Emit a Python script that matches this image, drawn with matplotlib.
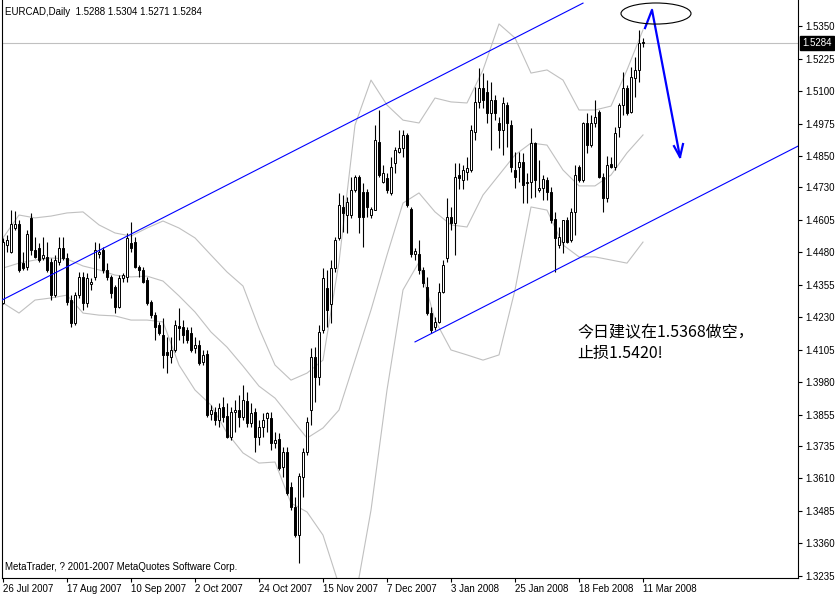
import matplotlib
matplotlib.use("Agg")
import matplotlib.pyplot as plt
from matplotlib.patches import Ellipse
import numpy as np

plt.rcParams["font.family"] = ["Liberation Sans", "DejaVu Sans"]

header_text = "EURCAD,Daily  1.5288 1.5304 1.5271 1.5284"
footer_text = "MetaTrader, ? 2001-2007 MetaQuotes Software Corp."
note_lines = ["今日建议在1.5368做空，", "止损1.5420!"]

# daily OHLC, one entry per bar (26 Jul 2007 .. 11 Mar 2008)
opens = [
    1.4285, 1.4508, 1.4482, 1.4575, 1.4590, 1.4437, 1.4425, 1.4610, 1.4489, 1.4495,
    1.4456, 1.4463, 1.4444, 1.4315, 1.4444, 1.4497, 1.4456, 1.4297, 1.4207, 1.4315,
    1.4386, 1.4284, 1.4357, 1.4386, 1.4472, 1.4489, 1.4412, 1.4386, 1.4348, 1.4271,
    1.4382, 1.4386, 1.4514, 1.4520, 1.4425, 1.4412, 1.4373, 1.4290, 1.4238, 1.4200,
    1.4162, 1.4097, 1.4078, 1.4104, 1.4196, 1.4191, 1.4181, 1.4168, 1.4110, 1.4123,
    1.4056, 1.4088, 1.3858, 1.3867, 1.3835, 1.3886, 1.3851, 1.3771, 1.3867, 1.3873,
    1.3848, 1.3907, 1.3825, 1.3867, 1.3771, 1.3809, 1.3841, 1.3841, 1.3745, 1.3760,
    1.3655, 1.3713, 1.3578, 1.3501, 1.3392, 1.3617, 1.3713, 1.3873, 1.4078, 1.4001,
    1.4180, 1.4341, 1.4280, 1.4418, 1.4533, 1.4655, 1.4623, 1.4623, 1.4719, 1.4770,
    1.4713, 1.4713, 1.4623, 1.4642, 1.4905, 1.4751, 1.4764, 1.4706, 1.4822, 1.4866,
    1.4879, 1.4931, 1.4648, 1.4475, 1.4475, 1.4411, 1.4347, 1.4245, 1.4193, 1.4213,
    1.4328, 1.4456, 1.4616, 1.4591, 1.4777, 1.4757, 1.4790, 1.4796, 1.4943, 1.5059,
    1.5110, 1.5097, 1.5014, 1.5065, 1.4976, 1.4950, 1.5046, 1.4970, 1.4796, 1.4809,
    1.4828, 1.4745, 1.4751, 1.4899, 1.4719, 1.4726, 1.4758, 1.4713, 1.4606, 1.4508,
    1.4520, 1.4604, 1.4527, 1.4636, 1.4809, 1.4758, 1.4976, 1.4892, 1.4976, 1.5020,
    1.4770, 1.4687, 1.4818, 1.4809, 1.4963, 1.5046, 1.5110, 1.5020, 1.5149, 1.5181,
    1.5288,
]
highs = [
    1.4535, 1.4546, 1.4642, 1.4640, 1.4605, 1.4482, 1.4566, 1.4630, 1.4540, 1.4514,
    1.4540, 1.4520, 1.4456, 1.4469, 1.4540, 1.4540, 1.4476, 1.4315, 1.4328, 1.4405,
    1.4405, 1.4399, 1.4379, 1.4520, 1.4514, 1.4501, 1.4437, 1.4392, 1.4354, 1.4392,
    1.4399, 1.4553, 1.4597, 1.4540, 1.4431, 1.4425, 1.4386, 1.4297, 1.4251, 1.4213,
    1.4226, 1.4155, 1.4155, 1.4219, 1.4264, 1.4219, 1.4194, 1.4194, 1.4155, 1.4142,
    1.4104, 1.4104, 1.3893, 1.3886, 1.3899, 1.3925, 1.3899, 1.3886, 1.3912, 1.3931,
    1.3970, 1.3944, 1.3899, 1.3880, 1.3835, 1.3860, 1.3867, 1.3867, 1.3790, 1.3783,
    1.3732, 1.3732, 1.3598, 1.3540, 1.3630, 1.3726, 1.3847, 1.4110, 1.4117, 1.4200,
    1.4418, 1.4411, 1.4450, 1.4540, 1.4706, 1.4700, 1.4693, 1.4770, 1.4777, 1.4777,
    1.4745, 1.4725, 1.4655, 1.4969, 1.5027, 1.4815, 1.4783, 1.4847, 1.4886, 1.4950,
    1.4950, 1.4937, 1.4655, 1.4495, 1.4527, 1.4424, 1.4386, 1.4270, 1.4232, 1.4360,
    1.4450, 1.4687, 1.4655, 1.4822, 1.4822, 1.4815, 1.4847, 1.4969, 1.5116, 1.5187,
    1.5168, 1.5142, 1.5136, 1.5085, 1.5001, 1.5078, 1.5059, 1.4989, 1.4866, 1.4866,
    1.4860, 1.4783, 1.4956, 1.4905, 1.4835, 1.4777, 1.4770, 1.4732, 1.4636, 1.4578,
    1.4604, 1.4617, 1.4649, 1.4815, 1.4815, 1.4982, 1.5014, 1.5008, 1.5065, 1.5027,
    1.4783, 1.4850, 1.4847, 1.4963, 1.5053, 1.5174, 1.5123, 1.5194, 1.5232, 1.5335,
    1.5304,
]
lows = [
    1.4280, 1.4482, 1.4478, 1.4565, 1.4405, 1.4412, 1.4412, 1.4469, 1.4456, 1.4444,
    1.4450, 1.4405, 1.4297, 1.4309, 1.4431, 1.4450, 1.4277, 1.4194, 1.4200, 1.4303,
    1.4258, 1.4271, 1.4335, 1.4373, 1.4456, 1.4399, 1.4373, 1.4303, 1.4245, 1.4264,
    1.4367, 1.4367, 1.4482, 1.4418, 1.4386, 1.4360, 1.4277, 1.4226, 1.4143, 1.4162,
    1.4033, 1.4014, 1.4053, 1.4097, 1.4142, 1.4129, 1.4129, 1.4097, 1.4091, 1.4046,
    1.4046, 1.3848, 1.3835, 1.3815, 1.3809, 1.3828, 1.3764, 1.3758, 1.3790, 1.3809,
    1.3835, 1.3809, 1.3809, 1.3713, 1.3739, 1.3771, 1.3790, 1.3719, 1.3726, 1.3642,
    1.3617, 1.3546, 1.3488, 1.3386, 1.3283, 1.3540, 1.3700, 1.3815, 1.3905, 1.3970,
    1.4170, 1.4193, 1.4206, 1.4405, 1.4527, 1.4559, 1.4552, 1.4610, 1.4713, 1.4552,
    1.4501, 1.4616, 1.4610, 1.4642, 1.4770, 1.4745, 1.4706, 1.4700, 1.4783, 1.4860,
    1.4847, 1.4655, 1.4463, 1.4450, 1.4398, 1.4347, 1.4238, 1.4168, 1.4181, 1.4206,
    1.4322, 1.4443, 1.4565, 1.4469, 1.4725, 1.4725, 1.4757, 1.4790, 1.4911, 1.5033,
    1.5033, 1.4976, 1.4873, 1.4989, 1.4880, 1.4854, 1.4886, 1.4790, 1.4726, 1.4751,
    1.4668, 1.4668, 1.4687, 1.4694, 1.4713, 1.4681, 1.4681, 1.4591, 1.4405, 1.4495,
    1.4476, 1.4514, 1.4520, 1.4546, 1.4751, 1.4751, 1.4860, 1.4886, 1.4963, 1.4764,
    1.4636, 1.4674, 1.4803, 1.4796, 1.4924, 1.5008, 1.5008, 1.5014, 1.5078, 1.5136,
    1.5271,
]
closes = [
    1.4520, 1.4527, 1.4590, 1.4588, 1.4412, 1.4418, 1.4549, 1.4489, 1.4463, 1.4450,
    1.4469, 1.4412, 1.4315, 1.4450, 1.4495, 1.4456, 1.4290, 1.4207, 1.4315, 1.4386,
    1.4284, 1.4379, 1.4367, 1.4489, 1.4482, 1.4412, 1.4386, 1.4322, 1.4271, 1.4379,
    1.4392, 1.4533, 1.4495, 1.4425, 1.4412, 1.4367, 1.4284, 1.4238, 1.4194, 1.4168,
    1.4085, 1.4085, 1.4104, 1.4200, 1.4187, 1.4162, 1.4142, 1.4104, 1.4123, 1.4053,
    1.4085, 1.3854, 1.3873, 1.3835, 1.3880, 1.3848, 1.3771, 1.3867, 1.3873, 1.3848,
    1.3912, 1.3822, 1.3861, 1.3771, 1.3809, 1.3835, 1.3860, 1.3745, 1.3758, 1.3649,
    1.3713, 1.3553, 1.3501, 1.3392, 1.3619, 1.3713, 1.3826, 1.4078, 1.4001, 1.4174,
    1.4380, 1.4257, 1.4418, 1.4527, 1.4661, 1.4629, 1.4674, 1.4719, 1.4770, 1.4616,
    1.4616, 1.4655, 1.4648, 1.4911, 1.4777, 1.4783, 1.4719, 1.4809, 1.4873, 1.4879,
    1.4931, 1.4661, 1.4475, 1.4486, 1.4411, 1.4360, 1.4245, 1.4181, 1.4213, 1.4328,
    1.4431, 1.4616, 1.4591, 1.4770, 1.4764, 1.4796, 1.4802, 1.4950, 1.5059, 1.5110,
    1.5065, 1.5014, 1.5065, 1.5014, 1.4950, 1.5053, 1.4976, 1.4809, 1.4770, 1.4828,
    1.4738, 1.4751, 1.4899, 1.4758, 1.4726, 1.4760, 1.4713, 1.4604, 1.4533, 1.4540,
    1.4604, 1.4520, 1.4633, 1.4777, 1.4758, 1.4976, 1.4892, 1.4976, 1.5001, 1.4770,
    1.4687, 1.4815, 1.4809, 1.4937, 1.5046, 1.5110, 1.5014, 1.5155, 1.5181, 1.5283,
    1.5284,
]

# Bollinger bands (20, 2) read every 4 bars
band_bars = list(range(0, 161, 4))
band_upper = [
    1.4535, 1.4623, 1.4612, 1.4619, 1.4631, 1.4635, 1.4585, 1.4554, 1.4542, 1.4573,
    1.4600, 1.4573, 1.4535, 1.4469, 1.4404, 1.4350, 1.4188, 1.4046, 1.3988, 1.4015,
    1.4065, 1.4442, 1.4969, 1.5142, 1.5046, 1.4988, 1.4977, 1.5073, 1.5058, 1.5054,
    1.5181, 1.5358, 1.5304, 1.5169, 1.5181, 1.5142, 1.5027, 1.5027, 1.5042, 1.5181,
    1.5335,
]
band_mid = [
    1.4419, 1.4438, 1.4450, 1.4458, 1.4454, 1.4427, 1.4412, 1.4392, 1.4385, 1.4388,
    1.4369, 1.4312, 1.4250, 1.4173, 1.4115, 1.4042, 1.3965, 1.3919, 1.3842, 1.3765,
    1.3804, 1.3873, 1.4065, 1.4258, 1.4469, 1.4669, 1.4708, 1.4635, 1.4585, 1.4577,
    1.4700, 1.4777, 1.4854, 1.4900, 1.4892, 1.4796, 1.4735, 1.4735, 1.4777, 1.4862,
    1.4931,
]
band_lower = [
    1.4285, 1.4246, 1.4296, 1.4304, 1.4315, 1.4246, 1.4238, 1.4235, 1.4219, 1.4219,
    1.4212, 1.4046, 1.3950, 1.3892, 1.3785, 1.3708, 1.3669, 1.3673, 1.3515, 1.3481,
    1.3392, 1.3200, 1.3142, 1.3488, 1.3950, 1.4335, 1.4442, 1.4219, 1.4104, 1.4085,
    1.4065, 1.4085, 1.4335, 1.4654, 1.4642, 1.4508, 1.4462, 1.4462, 1.4450, 1.4438,
    1.4519,
]

x_label_bars = [0, 16, 32, 48, 64, 80, 96, 112, 128, 144, 160]
x_labels = ["26 Jul 2007", "17 Aug 2007", "10 Sep 2007", "2 Oct 2007", "24 Oct 2007",
            "15 Nov 2007", "7 Dec 2007", "3 Jan 2008", "25 Jan 2008", "18 Feb 2008",
            "11 Mar 2008"]
y_labels = ["1.3235", "1.3360", "1.3485", "1.3610", "1.3735", "1.3855", "1.3980",
            "1.4105", "1.4230", "1.4355", "1.4480", "1.4605", "1.4730", "1.4850",
            "1.4975", "1.5100", "1.5225", "1.5350"]

last_price = 1.5284

# hand-drawn objects on the chart (bar index, price)
channel_top_x, channel_top_y = [-0.25, 145.0], [1.4296, 1.5438]
channel_bot_x, channel_bot_y = [103.0, 198.75], [1.4135, 1.4888]
arrow_x, arrow_y = [160.5, 162.25, 169.25], [1.5342, 1.5412, 1.4846]
arrow_head_x, arrow_head_y = [167.75, 169.25, 170.0], [1.4888, 1.4846, 1.4896]
ellipse_center = (163.25, 1.5398)
ellipse_w, ellipse_h = 17.5, 0.0081

fig = plt.figure(figsize=(8.35, 5.94), dpi=100)
ax = fig.add_axes([2 / 835, 16 / 594, 796 / 835, 578 / 594])
ax.set_xlim(-0.25, 198.75)
ax.set_ylim(1.3227, 1.5450)

idx = np.arange(len(closes))
o = np.array(opens)
c = np.array(closes)

# bands
band_col = "#c0c0c0"
for band in (band_upper, band_mid, band_lower):
    ax.plot(band_bars, band, color=band_col, lw=0.8, zorder=1)

ax.axhline(last_price, color=band_col, lw=0.8, zorder=1)

# candles
ax.vlines(idx, lows, highs, color="black", lw=0.8, zorder=2)
body_bottom = np.minimum(o, c)
body_h = np.maximum(np.abs(c - o), 0.00005)
body_col = np.where(c >= o, "white", "black")
ax.bar(idx, body_h, bottom=body_bottom, width=0.5, color=body_col,
       edgecolor="black", linewidth=0.7, zorder=3)

# channel lines, arrow, ellipse
ax.plot(channel_top_x, channel_top_y, color="#0000ff", lw=0.8, zorder=4)
ax.plot(channel_bot_x, channel_bot_y, color="#0000ff", lw=0.8, zorder=4)
ax.plot(arrow_x, arrow_y, color="#0000ff", lw=1.6, zorder=5)
ax.plot(arrow_head_x, arrow_head_y, color="#0000ff", lw=1.6, zorder=5)
ax.add_patch(Ellipse(ellipse_center, ellipse_w, ellipse_h, fill=False,
                     edgecolor="black", lw=0.8, zorder=5))

# axes styling
ax.spines["top"].set_visible(False)
for side in ("left", "bottom", "right"):
    ax.spines[side].set_linewidth(0.8)
ax.yaxis.tick_right()
ax.set_yticks([float(v) for v in y_labels])
ax.set_yticklabels(y_labels)
ax.set_xticks(x_label_bars)
ax.set_xticklabels(x_labels)
for lab in ax.get_xticklabels():
    lab.set_horizontalalignment("left")
ax.tick_params(axis="y", direction="out", length=3, width=0.8, labelsize=7, pad=2)
ax.tick_params(axis="x", direction="out", length=3, width=0.8, labelsize=7, pad=1)

ax.annotate(f"{last_price:.4f}", xy=(1.0, last_price), xycoords=("axes fraction", "data"),
            xytext=(3, 0), textcoords="offset points", ha="left", va="center",
            fontsize=7, color="white",
            bbox=dict(boxstyle="square,pad=0.2", facecolor="black", edgecolor="black"))

fig.text(5 / 835, 1 - 12 / 594, header_text, fontsize=7, va="center", ha="left")
fig.text(5 / 835, 1 - 567 / 594, footer_text, fontsize=7, va="center", ha="left")

cjk = ["Noto Sans CJK SC", "DejaVu Sans"]
ax.text(143.5, 1.4169, note_lines[0], fontsize=11.5, family=cjk, va="center", ha="left")
ax.text(143.5, 1.4092, note_lines[1], fontsize=11.5, family=cjk, va="center", ha="left")

fig.savefig("out.png", dpi=100, facecolor="white")
